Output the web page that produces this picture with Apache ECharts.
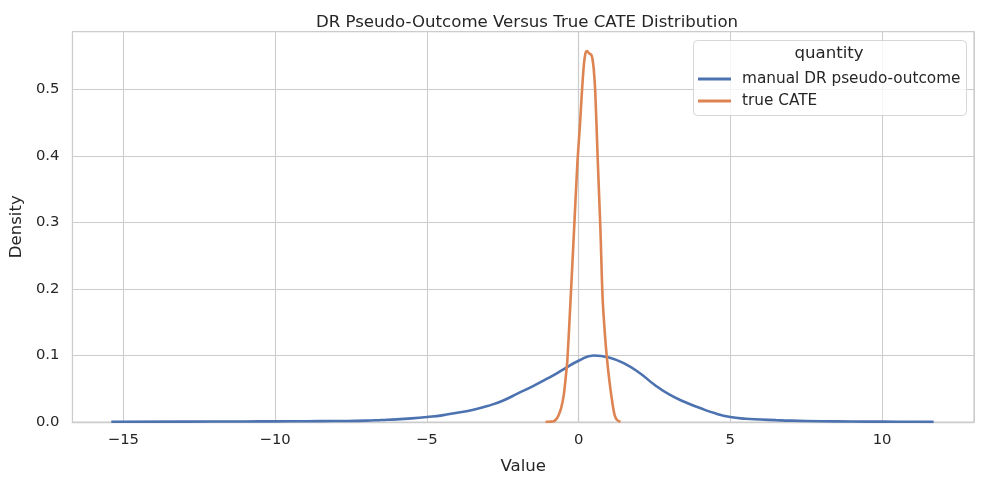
<!DOCTYPE html>
<html>
<head>
<meta charset="utf-8">
<title>DR Pseudo-Outcome Versus True CATE Distribution</title>
<script src="https://cdn.jsdelivr.net/npm/echarts@6/dist/echarts.min.js"></script>
<style>
  html, body { margin: 0; padding: 0; background: #ffffff; }
  #chart { width: 984px; height: 484px; }
</style>
</head>
<body>
<div id="chart"></div>
<script>
// KDE curves
const seriesNames = ['manual DR pseudo-outcome', 'true CATE'];

const drX = [-15.4, -13, -11, -10, -9, -8, -7, -6.5, -6, -5.5, -5, -4.5, -4, -3.5, -3, -2.5, -2, -1.5, -1, -0.5,
    0, 0.5, 1, 1.5, 2, 2.5, 3, 3.5, 4, 4.5, 5, 5.5, 6, 6.5, 7, 8, 9, 10, 11, 11.7];
const drY = [0.0004, 0.0006, 0.0008, 0.001, 0.0012, 0.0015, 0.002, 0.003, 0.004, 0.0055, 0.0075, 0.01, 0.014, 0.018,
    0.024, 0.032, 0.043, 0.054, 0.066, 0.079, 0.092, 0.1, 0.097, 0.088, 0.074, 0.056, 0.041, 0.03, 0.021, 0.013,
    0.0075, 0.005, 0.0038, 0.0028, 0.002, 0.0012, 0.0008, 0.0005, 0.0003, 0.0002];

const cateX = [-1.09, -0.95, -0.82, -0.72, -0.66, -0.58, -0.49, -0.43, -0.37, -0.26, -0.15, -0.04, 0.05, 0.1, 0.17,
    0.23, 0.28, 0.35, 0.42, 0.46, 0.5, 0.55, 0.63, 0.72, 0.79, 0.87, 0.94, 1.02, 1.11, 1.19, 1.27, 1.38];
const cateY = [0, 0.0005, 0.001, 0.005, 0.01, 0.02, 0.04, 0.065, 0.093, 0.188, 0.288, 0.389, 0.45, 0.489, 0.535,
    0.555, 0.5575, 0.554, 0.552, 0.545, 0.53, 0.495, 0.395, 0.288, 0.188, 0.13, 0.093, 0.06, 0.03, 0.01, 0.003, 0];

const xRange = [-16.68, 13.03];
const yRange = [0, 0.587];

const font = 'DejaVu Sans';
const ink = '#262626';
const gridColor = '#cccccc';

function pairs(xs, ys) {
    return xs.map((x, i) => [x, ys[i]]);
}

const chart = echarts.init(document.getElementById('chart'), null, { renderer: 'canvas' });

chart.setOption({
    animation: false,
    color: ['#4c72b0', '#dd8452'],
    textStyle: { fontFamily: font },
    title: {
        text: 'DR Pseudo-Outcome Versus True CATE Distribution',
        left: 522,
        top: 9,
        textAlign: 'center',
        textStyle: { fontFamily: font, fontSize: 16.6, fontWeight: 'normal', color: ink }
    },
    grid: {
        left: 71,
        right: 10,
        top: 31.5,
        bottom: 62,
        show: true,
        borderColor: gridColor,
        borderWidth: 1.25,
        backgroundColor: '#ffffff'
    },
    graphic: [
        {
            type: 'rect',
            z: 5,
            shape: { x: 693.5, y: 40.5, width: 273, height: 75, r: 4 },
            style: { fill: 'rgba(255,255,255,0.8)', stroke: '#d6d6d6', lineWidth: 1 }
        },
        {
            type: 'text',
            z: 6,
            x: 829,
            y: 54,
            style: {
                text: 'quantity',
                fill: ink,
                font: '16.6px "DejaVu Sans"',
                align: 'center',
                verticalAlign: 'middle'
            }
        }
    ],
    legend: {
        z: 7,
        orient: 'vertical',
        left: 698,
        top: 71,
        padding: 0,
        itemGap: 6,
        itemWidth: 33,
        itemHeight: 3,
        icon: 'rect',
        data: seriesNames,
        textStyle: { fontFamily: font, fontSize: 15.3, color: ink, lineHeight: 16, padding: [0, 0, 0, 6] }
    },
    xAxis: {
        type: 'value',
        min: xRange[0],
        max: xRange[1],
        splitNumber: 6,
        name: 'Value',
        nameLocation: 'middle',
        nameGap: 36,
        nameTextStyle: { fontFamily: font, fontSize: 16.6, color: ink },
        axisLine: { show: true, lineStyle: { color: gridColor, width: 1.25 } },
        axisTick: { show: false },
        axisLabel: {
            margin: 11,
            fontFamily: font,
            fontSize: 14.8,
            color: ink,
            showMinLabel: false,
            showMaxLabel: false,
            formatter: v => (v < 0 ? '\u2212' + Math.abs(v) : String(v))
        },
        splitLine: { show: true, lineStyle: { color: gridColor, width: 1 } }
    },
    yAxis: {
        type: 'value',
        min: yRange[0],
        max: yRange[1],
        interval: 0.1,
        name: 'Density',
        nameLocation: 'middle',
        nameGap: 39,
        nameTextStyle: { fontFamily: font, fontSize: 16.6, color: ink },
        axisLine: { show: true, lineStyle: { color: gridColor, width: 1.25 } },
        axisTick: { show: false },
        axisLabel: {
            margin: 13,
            fontFamily: font,
            fontSize: 14.8,
            color: ink,
            showMaxLabel: false,
            formatter: v => v.toFixed(1)
        },
        splitLine: { show: true, lineStyle: { color: gridColor, width: 1 } }
    },
    series: [
        {
            name: seriesNames[0],
            type: 'line',
            data: pairs(drX, drY),
            showSymbol: false,
            smooth: 0.5,
            lineStyle: { width: 2.6 }
        },
        {
            name: seriesNames[1],
            type: 'line',
            data: pairs(cateX, cateY),
            showSymbol: false,
            smooth: 0.3,
            lineStyle: { width: 2.6 }
        }
    ]
});
</script>
</body>
</html>
